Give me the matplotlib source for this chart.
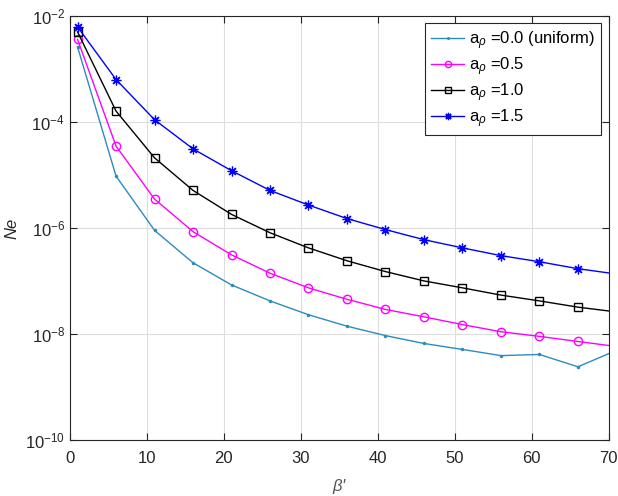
import matplotlib
matplotlib.use("Agg")
import matplotlib.pyplot as plt
import numpy as np

plt.rcParams["font.family"] = ["Liberation Sans", "DejaVu Sans"]
plt.rcParams["mathtext.fontset"] = "custom"
plt.rcParams["mathtext.rm"] = "Liberation Sans"
plt.rcParams["mathtext.it"] = "Liberation Sans:italic"

# beta' sample points (last one sits just past the x limit)
beta = [1, 6, 11, 16, 21, 26, 31, 36, 41, 46, 51, 56, 61, 66, 71]

ne_00 = [2.6e-3, 9.5e-6, 9.0e-7, 2.2e-7, 8.4e-8, 4.2e-8, 2.3e-8, 1.4e-8,
         9.3e-9, 6.6e-9, 5.1e-9, 3.9e-9, 4.1e-9, 2.4e-9, 4.9e-9]
ne_05 = [3.6e-3, 3.5e-5, 3.5e-6, 8.5e-7, 3.1e-7, 1.4e-7, 7.4e-8, 4.5e-8,
         2.9e-8, 2.1e-8, 1.5e-8, 1.1e-8, 9.0e-9, 7.2e-9, 5.8e-9]
ne_10 = [5.0e-3, 1.6e-4, 2.1e-5, 5.1e-6, 1.8e-6, 8.1e-7, 4.2e-7, 2.4e-7,
         1.5e-7, 1.0e-7, 7.4e-8, 5.4e-8, 4.2e-8, 3.2e-8, 2.6e-8]
ne_15 = [6.2e-3, 6.3e-4, 1.1e-4, 3.1e-5, 1.2e-5, 5.1e-6, 2.7e-6, 1.5e-6,
         9.3e-7, 6.0e-7, 4.2e-7, 3.0e-7, 2.3e-7, 1.7e-7, 1.35e-7]

labels = [r"a$_\rho$ =0.0 (uniform)", r"a$_\rho$ =0.5", r"a$_\rho$ =1.0", r"a$_\rho$ =1.5"]
xticks = [0, 10, 20, 30, 40, 50, 60, 70]
yticks = [1e-10, 1e-8, 1e-6, 1e-4, 1e-2]

fig = plt.figure(figsize=(6.18, 4.96), dpi=100)
ax = fig.add_axes([0.113, 0.113, 0.872, 0.855])

ax.plot(beta, ne_00, color="#2b8cbe", lw=1, marker=".", ms=3, label=labels[0])
ax.plot(beta, ne_05, color="#ff00ff", lw=1, marker="o", ms=6, mfc="none", label=labels[1])
ax.plot(beta, ne_10, color="k", lw=1, marker="s", ms=5.5, mfc="none", label=labels[2])
ax.plot(beta, ne_15, color="#0000ff", lw=1, marker=(8, 2, 0), ms=7, mew=0.9,
        label=labels[3])

ax.set_yscale("log")
ax.set_xlim(0, 70)
ax.set_ylim(1e-10, 1e-2)
ax.set_xticks(xticks)
ax.set_yticks(yticks)
ax.set_yticklabels([r"10$^{%d}$" % int(np.log10(v)) for v in yticks])
ax.yaxis.set_minor_locator(matplotlib.ticker.NullLocator())
ax.tick_params(direction="in", top=True, right=True, labelsize=12, length=5,
               colors="#262626")
ax.tick_params(axis="x", pad=8)
ax.grid(True, color="#dedede", lw=0.8)
for s in ax.spines.values():
    s.set_color("#262626")

ax.set_xlabel(r"$\beta$'", fontsize=12, color="#555555", style="italic", labelpad=8)
ax.set_ylabel("Ne", fontsize=12, style="italic", color="#262626")

leg = ax.legend(loc="upper right", fontsize=12, fancybox=False, framealpha=1,
                edgecolor="#262626", handlelength=2.0, handletextpad=0.3,
                borderaxespad=0.45, labelspacing=0.2, markerscale=0.75,
                borderpad=0.35)
leg.get_frame().set_linewidth(0.8)

fig.savefig("out.png", dpi=100)
